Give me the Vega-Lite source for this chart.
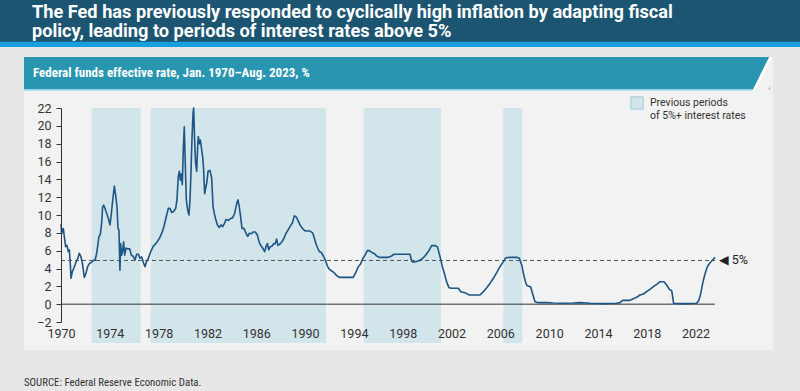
{
  "$schema": "https://vega.github.io/schema/vega-lite/v6.json",
  "width": 659,
  "height": 214,
  "autosize": {"type": "none"},
  "padding": {"left": 61, "top": 108, "right": 80, "bottom": 69},
  "background": "#e7e7e7",
  "resolve": {"axis": {"x": "independent", "y": "independent"}},
  "config": {
    "view": {"stroke": null},
    "axis": {"grid": false, "zindex": 1, "labelOverlap": false, "labelFont": "Roboto", "labelFontSize": 12.5, "labelColor": "#333333", "titleColor": "#333333"},
    "axisX": {"domain": false, "ticks": false, "labelPadding": 5, "labelFlush": false},
    "axisY": {"domain": true, "domainColor": "#333333", "ticks": true, "tickColor": "#333333", "tickSize": 5, "labelPadding": 5}
  },
  "datasets": {
    "rate": [
      {"year":1970.00,"rate":9.0},{"year":1970.05,"rate":7.9},{"year":1970.12,"rate":8.3},{"year":1970.19,"rate":8.5},{"year":1970.27,"rate":7.6},{"year":1970.38,"rate":6.45},{"year":1970.49,"rate":6.6},{"year":1970.60,"rate":5.9},{"year":1970.68,"rate":6.1},{"year":1970.76,"rate":4.6},{"year":1970.82,"rate":2.9},{"year":1970.93,"rate":3.65},
      {"year":1971.04,"rate":4.0},{"year":1971.20,"rate":4.6},{"year":1971.37,"rate":5.1},{"year":1971.50,"rate":5.7},{"year":1971.64,"rate":5.3},{"year":1971.75,"rate":4.6},{"year":1971.91,"rate":3.0},
      {"year":1972.05,"rate":3.5},{"year":1972.18,"rate":4.2},{"year":1972.35,"rate":4.6},{"year":1972.51,"rate":4.7},{"year":1972.68,"rate":4.95},{"year":1972.79,"rate":4.9},{"year":1972.92,"rate":5.7},
      {"year":1973.00,"rate":6.45},{"year":1973.11,"rate":7.6},{"year":1973.22,"rate":7.8},{"year":1973.33,"rate":9.1},{"year":1973.41,"rate":10.9},{"year":1973.50,"rate":11.1},{"year":1973.60,"rate":10.75},{"year":1973.74,"rate":10.2},{"year":1973.88,"rate":9.6},
      {"year":1974.01,"rate":8.9},{"year":1974.10,"rate":9.8},{"year":1974.21,"rate":11.3},{"year":1974.37,"rate":13.25},{"year":1974.48,"rate":12.2},{"year":1974.59,"rate":10.9},{"year":1974.67,"rate":8.5},{"year":1974.75,"rate":8.3},{"year":1974.83,"rate":3.8},{"year":1974.89,"rate":6.8},{"year":1974.97,"rate":5.5},
      {"year":1975.05,"rate":5.9},{"year":1975.13,"rate":7.0},{"year":1975.22,"rate":5.5},{"year":1975.33,"rate":6.3},{"year":1975.46,"rate":6.2},{"year":1975.63,"rate":6.2},{"year":1975.76,"rate":5.5},{"year":1975.93,"rate":5.35},
      {"year":1976.06,"rate":4.95},{"year":1976.20,"rate":5.6},{"year":1976.34,"rate":5.6},{"year":1976.47,"rate":5.15},{"year":1976.61,"rate":5.3},{"year":1976.77,"rate":4.6},{"year":1976.88,"rate":4.2},
      {"year":1977.02,"rate":4.8},{"year":1977.16,"rate":5.15},{"year":1977.35,"rate":5.9},{"year":1977.57,"rate":6.5},{"year":1977.84,"rate":6.9},
      {"year":1978.11,"rate":7.5},{"year":1978.30,"rate":8.1},{"year":1978.47,"rate":8.9},{"year":1978.66,"rate":10.0},{"year":1978.80,"rate":10.75},{"year":1978.93,"rate":10.75},
      {"year":1979.07,"rate":10.3},{"year":1979.23,"rate":10.4},{"year":1979.40,"rate":10.75},{"year":1979.50,"rate":11.7},{"year":1979.61,"rate":14.3},{"year":1979.70,"rate":14.9},{"year":1979.78,"rate":13.9},{"year":1979.86,"rate":14.6},{"year":1979.94,"rate":13.4},
      {"year":1980.02,"rate":17.3},{"year":1980.10,"rate":19.9},{"year":1980.19,"rate":15.4},{"year":1980.27,"rate":11.7},{"year":1980.38,"rate":10.56},{"year":1980.49,"rate":10.0},{"year":1980.57,"rate":11.7},{"year":1980.65,"rate":14.7},{"year":1980.73,"rate":18.4},{"year":1980.82,"rate":21.4},{"year":1980.87,"rate":22.0},{"year":1980.95,"rate":18.4},
      {"year":1981.03,"rate":15.8},{"year":1981.12,"rate":14.9},{"year":1981.20,"rate":17.7},{"year":1981.25,"rate":18.8},{"year":1981.34,"rate":18.0},{"year":1981.42,"rate":18.4},{"year":1981.53,"rate":17.3},{"year":1981.61,"rate":16.5},{"year":1981.69,"rate":15.05},{"year":1981.77,"rate":12.4},{"year":1981.85,"rate":13.0},{"year":1981.94,"rate":13.55},
      {"year":1982.05,"rate":14.9},{"year":1982.21,"rate":15.0},{"year":1982.35,"rate":14.1},{"year":1982.46,"rate":10.9},{"year":1982.56,"rate":10.2},{"year":1982.70,"rate":9.4},{"year":1982.81,"rate":8.9},{"year":1982.97,"rate":8.6},
      {"year":1983.11,"rate":8.9},{"year":1983.25,"rate":8.7},{"year":1983.38,"rate":9.0},{"year":1983.52,"rate":9.5},{"year":1983.71,"rate":9.4},{"year":1983.90,"rate":9.6},
      {"year":1984.07,"rate":9.7},{"year":1984.23,"rate":10.2},{"year":1984.40,"rate":11.3},{"year":1984.50,"rate":11.7},{"year":1984.61,"rate":10.9},{"year":1984.72,"rate":9.8},{"year":1984.83,"rate":8.5},{"year":1984.99,"rate":8.5},
      {"year":1985.16,"rate":7.95},{"year":1985.30,"rate":7.6},{"year":1985.43,"rate":7.95},{"year":1985.60,"rate":7.9},{"year":1985.76,"rate":8.1},{"year":1985.92,"rate":8.1},
      {"year":1986.09,"rate":7.75},{"year":1986.23,"rate":7.0},{"year":1986.36,"rate":6.6},{"year":1986.52,"rate":6.3},{"year":1986.69,"rate":5.9},{"year":1986.80,"rate":6.45},{"year":1986.91,"rate":6.8},
      {"year":1987.02,"rate":6.1},{"year":1987.15,"rate":6.45},{"year":1987.29,"rate":6.5},{"year":1987.43,"rate":6.8},{"year":1987.54,"rate":6.75},{"year":1987.67,"rate":7.3},{"year":1987.78,"rate":6.6},{"year":1987.94,"rate":6.75},
      {"year":1988.11,"rate":7.0},{"year":1988.27,"rate":7.4},{"year":1988.44,"rate":7.95},{"year":1988.60,"rate":8.3},{"year":1988.76,"rate":8.7},{"year":1988.96,"rate":9.1},
      {"year":1989.12,"rate":9.9},{"year":1989.26,"rate":9.8},{"year":1989.42,"rate":9.4},{"year":1989.58,"rate":8.9},{"year":1989.78,"rate":8.5},{"year":1989.97,"rate":8.25},
      {"year":1990.19,"rate":8.2},{"year":1990.40,"rate":8.2},{"year":1990.62,"rate":8.0},{"year":1990.76,"rate":7.4},{"year":1990.90,"rate":6.75},
      {"year":1991.03,"rate":6.3},{"year":1991.17,"rate":5.9},{"year":1991.33,"rate":5.8},{"year":1991.50,"rate":5.4},{"year":1991.66,"rate":4.95},{"year":1991.82,"rate":4.3},{"year":1991.96,"rate":3.95},
      {"year":1992.10,"rate":3.8},{"year":1992.32,"rate":3.6},{"year":1992.59,"rate":3.2},{"year":1992.81,"rate":3.0},{"year":1993.41,"rate":3.0},{"year":1993.95,"rate":3.0},
      {"year":1994.17,"rate":3.6},{"year":1994.36,"rate":4.2},{"year":1994.55,"rate":4.5},{"year":1994.72,"rate":5.1},{"year":1994.91,"rate":5.5},
      {"year":1995.10,"rate":6.0},{"year":1995.27,"rate":6.0},{"year":1995.46,"rate":5.8},{"year":1995.65,"rate":5.7},{"year":1995.87,"rate":5.4},
      {"year":1996.09,"rate":5.25},{"year":1996.41,"rate":5.25},{"year":1996.82,"rate":5.25},{"year":1997.09,"rate":5.4},{"year":1997.29,"rate":5.6},{"year":1997.78,"rate":5.6},
      {"year":1998.19,"rate":5.6},{"year":1998.60,"rate":5.6},{"year":1998.73,"rate":4.84},{"year":1998.87,"rate":4.7},
      {"year":1999.28,"rate":4.84},{"year":1999.55,"rate":5.03},{"year":1999.82,"rate":5.4},
      {"year":2000.10,"rate":5.9},{"year":2000.37,"rate":6.56},{"year":2000.65,"rate":6.56},{"year":2000.84,"rate":6.45},
      {"year":2001.06,"rate":5.33},{"year":2001.25,"rate":4.2},{"year":2001.41,"rate":3.46},{"year":2001.60,"rate":2.5},{"year":2001.79,"rate":1.85},
      {"year":2002.01,"rate":1.78},{"year":2002.56,"rate":1.78},{"year":2002.75,"rate":1.4},{"year":2003.10,"rate":1.29},{"year":2003.46,"rate":1.03},{"year":2004.33,"rate":1.03},
      {"year":2004.61,"rate":1.4},{"year":2004.88,"rate":1.85},{"year":2005.15,"rate":2.33},{"year":2005.43,"rate":2.9},{"year":2005.70,"rate":3.53},{"year":2005.97,"rate":4.2},
      {"year":2006.25,"rate":4.77},{"year":2006.44,"rate":5.2},{"year":2006.79,"rate":5.25},{"year":2007.34,"rate":5.25},{"year":2007.56,"rate":5.14},{"year":2007.75,"rate":4.4},{"year":2007.90,"rate":3.4},
      {"year":2008.10,"rate":2.3},{"year":2008.21,"rate":2.07},{"year":2008.48,"rate":1.96},{"year":2008.65,"rate":1.14},{"year":2008.84,"rate":0.28},
      {"year":2009.11,"rate":0.17},{"year":2009.80,"rate":0.17},{"year":2010.34,"rate":0.13},{"year":2011.16,"rate":0.10},{"year":2011.98,"rate":0.13},{"year":2012.53,"rate":0.17},{"year":2013.35,"rate":0.10},{"year":2014.44,"rate":0.06},{"year":2015.53,"rate":0.10},{"year":2015.80,"rate":0.17},
      {"year":2016.02,"rate":0.43},{"year":2016.62,"rate":0.43},{"year":2016.90,"rate":0.60},{"year":2017.17,"rate":0.77},{"year":2017.44,"rate":1.03},{"year":2017.72,"rate":1.14},{"year":2017.99,"rate":1.40},
      {"year":2018.26,"rate":1.66},{"year":2018.54,"rate":1.96},{"year":2018.81,"rate":2.22},{"year":2019.08,"rate":2.52},{"year":2019.41,"rate":2.52},{"year":2019.63,"rate":2.15},{"year":2019.85,"rate":1.66},
      {"year":2020.04,"rate":1.51},{"year":2020.12,"rate":0.84},{"year":2020.20,"rate":0.10},{"year":2020.72,"rate":0.06},{"year":2021.54,"rate":0.06},
      {"year":2022.09,"rate":0.10},{"year":2022.28,"rate":0.47},{"year":2022.42,"rate":1.21},{"year":2022.58,"rate":2.33},{"year":2022.77,"rate":3.38},{"year":2022.96,"rate":4.20},
      {"year":2023.18,"rate":4.65},{"year":2023.40,"rate":4.95},{"year":2023.59,"rate":5.25}
    ],
    "bands": [
      {"start":1972.51,"end":1976.53,"kind":"Previous periods of 5%+ interest rates"},
      {"start":1977.35,"end":1991.71,"kind":"Previous periods of 5%+ interest rates"},
      {"start":1994.80,"end":2001.14,"kind":"Previous periods of 5%+ interest rates"},
      {"start":2006.24,"end":2007.80,"kind":"Previous periods of 5%+ interest rates"}
    ]
  },
  "layer": [
    {
      "data": {"values": [{}]},
      "mark": {"type": "rect", "color": "#19a0dc"},
      "encoding": {
        "x": {"datum": 1964, "type": "quantitative", "axis": null, "scale": {"domain": [1970, 2024], "nice": false, "zero": false}},
        "x2": {"datum": 2032},
        "y": {"datum": 35, "type": "quantitative", "axis": null, "scale": {"domain": [-2, 22], "nice": false, "zero": false}},
        "y2": {"datum": 28.85}
      }
    },
    {
      "data": {"values": [{}]},
      "mark": {"type": "rect", "color": "#1c5571"},
      "encoding": {
        "x": {"datum": 1964, "type": "quantitative", "axis": null, "scale": {"domain": [1970, 2024], "nice": false, "zero": false}},
        "x2": {"datum": 2032},
        "y": {"datum": 35, "type": "quantitative", "axis": null, "scale": {"domain": [-2, 22], "nice": false, "zero": false}},
        "y2": {"datum": 29.44}
      }
    },
    {
      "data": {"values": [{}]},
      "mark": {"type": "rect", "color": "#f2f2f2"},
      "encoding": {
        "x": {"datum": 1966.97, "type": "quantitative", "axis": null, "scale": {"domain": [1970, 2024], "nice": false, "zero": false}},
        "x2": {"datum": 2028.34},
        "y": {"datum": 27.72, "type": "quantitative", "axis": null, "scale": {"domain": [-2, 22], "nice": false, "zero": false}},
        "y2": {"datum": -5.14}
      }
    },
    {
      "data": {"values": [{}]},
      "mark": {"type": "rect", "color": "#a9e0ec"},
      "encoding": {
        "x": {"datum": 1966.97, "type": "quantitative", "axis": null, "scale": {"domain": [1970, 2024], "nice": false, "zero": false}},
        "x2": {"datum": 2027.1},
        "y": {"datum": 24.10, "type": "quantitative", "axis": null, "scale": {"domain": [-2, 22], "nice": false, "zero": false}},
        "y2": {"datum": 23.92}
      }
    },
    {
      "data": {"values": [{}]},
      "mark": {"type": "rect", "color": "#2896b0"},
      "encoding": {
        "x": {"datum": 1966.97, "type": "quantitative", "axis": null, "scale": {"domain": [1970, 2024], "nice": false, "zero": false}},
        "x2": {"datum": 2028.1},
        "y": {"datum": 27.72, "type": "quantitative", "axis": null, "scale": {"domain": [-2, 22], "nice": false, "zero": false}},
        "y2": {"datum": 24.10}
      }
    },
    {
      "data": {"values": [{}]},
      "mark": {"type": "rule", "color": "#f2f2f2", "strokeWidth": 14},
      "encoding": {
        "x": {"datum": 2028.87, "type": "quantitative", "axis": null, "scale": {"domain": [1970, 2024], "nice": false, "zero": false}},
        "x2": {"datum": 2026.99},
        "y": {"datum": 28.28, "type": "quantitative", "axis": null, "scale": {"domain": [-2, 22], "nice": false, "zero": false}},
        "y2": {"datum": 23.12}
      }
    },
    {
      "data": {"values": [{}]},
      "mark": {"type": "rule", "color": "#ffffff", "strokeWidth": 2.5},
      "encoding": {
        "x": {"datum": 2028.18, "type": "quantitative", "axis": null, "scale": {"domain": [1970, 2024], "nice": false, "zero": false}},
        "x2": {"datum": 2026.87},
        "y": {"datum": 27.72, "type": "quantitative", "axis": null, "scale": {"domain": [-2, 22], "nice": false, "zero": false}},
        "y2": {"datum": 24.13}
      }
    },
    {
      "data": {"values": [{}]},
      "mark": {"type": "rect", "color": "#e7e7e7"},
      "encoding": {
        "x": {"datum": 1964, "type": "quantitative", "axis": null, "scale": {"domain": [1970, 2024], "nice": false, "zero": false}},
        "x2": {"datum": 2032},
        "y": {"datum": 28.85, "type": "quantitative", "axis": null, "scale": {"domain": [-2, 22], "nice": false, "zero": false}},
        "y2": {"datum": 27.72}
      }
    },
    {
      "data": {"values": [{}]},
      "mark": {"type": "rect", "color": "#e7e7e7"},
      "encoding": {
        "x": {"datum": 2028.34, "type": "quantitative", "axis": null, "scale": {"domain": [1970, 2024], "nice": false, "zero": false}},
        "x2": {"datum": 2032},
        "y": {"datum": 28.85, "type": "quantitative", "axis": null, "scale": {"domain": [-2, 22], "nice": false, "zero": false}},
        "y2": {"datum": 22.6}
      }
    },
    {
      "data": {"values": [{}]},
      "mark": {"type": "text", "text": ["The Fed has previously responded to cyclically high inflation by adapting fiscal", "policy, leading to periods of interest rates above 5%"], "font": "Roboto", "fontWeight": "bold", "fontSize": 18.2, "lineHeight": 19.5, "color": "#ffffff", "align": "left", "baseline": "alphabetic"},
      "encoding": {
        "x": {"datum": 1967.62, "type": "quantitative", "axis": null, "scale": {"domain": [1970, 2024], "nice": false, "zero": false}},
        "y": {"datum": 32.12, "type": "quantitative", "axis": null, "scale": {"domain": [-2, 22], "nice": false, "zero": false}}
      }
    },
    {
      "data": {"values": [{}]},
      "mark": {"type": "text", "text": "Federal funds effective rate, Jan. 1970–Aug. 2023, %", "font": "Roboto Condensed, Roboto", "fontWeight": "bold", "fontSize": 13, "color": "#ffffff", "align": "left", "baseline": "middle"},
      "encoding": {
        "x": {"datum": 1967.71, "type": "quantitative", "axis": null, "scale": {"domain": [1970, 2024], "nice": false, "zero": false}},
        "y": {"datum": 25.87, "type": "quantitative", "axis": null, "scale": {"domain": [-2, 22], "nice": false, "zero": false}}
      }
    },
    {
      "data": {"values": [{}]},
      "mark": {"type": "text", "text": "SOURCE: Federal Reserve Economic Data.", "font": "Roboto Condensed, Roboto", "fontSize": 10.8, "color": "#333333", "align": "left", "baseline": "middle"},
      "encoding": {
        "x": {"datum": 1966.97, "type": "quantitative", "axis": null, "scale": {"domain": [1970, 2024], "nice": false, "zero": false}},
        "y": {"datum": -8.84, "type": "quantitative", "axis": null, "scale": {"domain": [-2, 22], "nice": false, "zero": false}}
      }
    },
    {
      "data": {"name": "bands"},
      "mark": {"type": "rect", "opacity": 1},
      "encoding": {
        "x": {"field": "start", "type": "quantitative", "axis": null, "scale": {"domain": [1970, 2024], "nice": false, "zero": false}},
        "x2": {"field": "end"},
        "y": {"datum": 22, "type": "quantitative", "axis": null, "scale": {"domain": [-2, 22], "nice": false, "zero": false}},
        "y2": {"datum": -4.35},
        "color": {
          "field": "kind", "type": "nominal",
          "scale": {"range": ["#d2e5eb"]},
          "legend": {
            "orient": "none", "legendX": 569, "legendY": -12, "title": null,
            "symbolType": "square", "symbolSize": 150, "symbolStrokeColor": "#9ecbd8", "symbolStrokeWidth": 1, "symbolOpacity": 1,
            "labelFont": "Roboto", "labelFontSize": 10.5, "labelColor": "#333333", "labelOffset": 6, "labelLimit": 200,
            "labelExpr": "['Previous periods', 'of 5%+ interest rates']"
          }
        }
      }
    },
    {
      "data": {"values": [{}]},
      "mark": {"type": "rule", "color": "#333333", "strokeWidth": 1},
      "encoding": {
        "x": {"datum": 1970, "type": "quantitative", "axis": null, "scale": {"domain": [1970, 2024], "nice": false, "zero": false}},
        "x2": {"datum": 2023.59},
        "y": {"datum": 0, "type": "quantitative", "axis": null, "scale": {"domain": [-2, 22], "nice": false, "zero": false}}
      }
    },
    {
      "data": {"values": [{}]},
      "mark": {"type": "rule", "color": "#555555", "strokeWidth": 1, "strokeDash": [4, 3]},
      "encoding": {
        "x": {"datum": 1970, "type": "quantitative", "axis": null, "scale": {"domain": [1970, 2024], "nice": false, "zero": false}},
        "x2": {"datum": 2023.59},
        "y": {"datum": 4.9, "type": "quantitative", "axis": null, "scale": {"domain": [-2, 22], "nice": false, "zero": false}}
      }
    },
    {
      "data": {"name": "rate"},
      "mark": {"type": "line", "color": "#1d5684", "strokeWidth": 1.6, "strokeJoin": "round"},
      "encoding": {
        "x": {
          "field": "year", "type": "quantitative", "title": null,
          "scale": {"domain": [1970, 2024], "nice": false, "zero": false},
          "axis": {"title": null, "values": [1970, 1974, 1978, 1982, 1986, 1990, 1994, 1998, 2002, 2006, 2010, 2014, 2018, 2022], "format": "d", "domain": false, "ticks": false, "grid": false, "labelPadding": 5, "labelFlush": false, "labelOverlap": false, "zindex": 1}
        },
        "y": {
          "field": "rate", "type": "quantitative", "title": null,
          "scale": {"domain": [-2, 22], "nice": false, "zero": false},
          "axis": {"title": null, "values": [-2, 0, 2, 4, 6, 8, 10, 12, 14, 16, 18, 20, 22], "domain": true, "ticks": true, "tickSize": 5, "grid": false, "labelPadding": 5, "labelOverlap": false, "zindex": 1}
        }
      }
    },
    {
      "data": {"values": [{}]},
      "mark": {"type": "text", "text": "◀ 5%", "font": "Roboto, DejaVu Sans", "fontSize": 12.5, "color": "#222222", "align": "left", "baseline": "middle"},
      "encoding": {
        "x": {"datum": 2023.92, "type": "quantitative", "axis": null, "scale": {"domain": [1970, 2024], "nice": false, "zero": false}},
        "y": {"datum": 4.9, "type": "quantitative", "axis": null, "scale": {"domain": [-2, 22], "nice": false, "zero": false}}
      }
    }
  ]
}
